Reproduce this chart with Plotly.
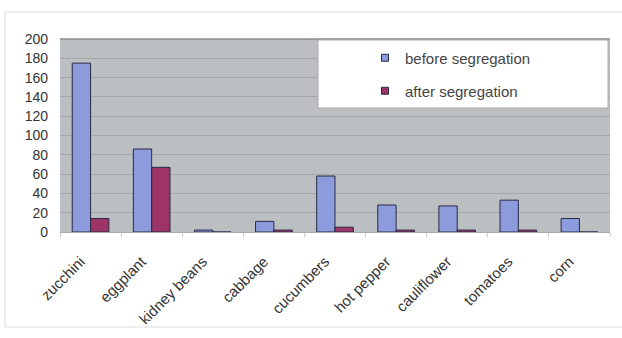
import plotly.graph_objects as go

categories = ["zucchini", "eggplant", "kidney beans", "cabbage", "cucumbers",
              "hot pepper", "cauliflower", "tomatoes", "corn"]
before = [175, 86, 2, 11, 58, 28, 27, 33, 14]
after = [14, 67, 0, 2, 5, 2, 2, 2, 0]
series_names = ["before segregation", "after segregation"]
y_ticks = list(range(0, 201, 20))

W, H = 622, 338
L, R, T, B = 60, 12, 39, 106
pw, ph = W - L - R, H - T - B

def px(x):
    return (x - L) / pw

def py(y):
    return (H - B - y) / ph

c_before = "#8C9BDB"
c_after = "#9C3466"
outline = "#2A2A4A"

fig = go.Figure()
fig.add_trace(go.Bar(x=categories, y=before, name=series_names[0],
                     marker=dict(color=c_before, line=dict(color=outline, width=1)),
                     showlegend=False))
fig.add_trace(go.Bar(x=categories, y=after, name=series_names[1],
                     marker=dict(color=c_after, line=dict(color=outline, width=1)),
                     showlegend=False))
# legend entries
fig.add_trace(go.Scatter(x=[None], y=[None], mode="markers", name=series_names[0],
                         marker=dict(symbol="square", size=7, color=c_before,
                                     line=dict(color=outline, width=1)),
                         legend="legend"))
fig.add_trace(go.Scatter(x=[None], y=[None], mode="markers", name=series_names[1],
                         marker=dict(symbol="square", size=7, color=c_after,
                                     line=dict(color=outline, width=1)),
                         legend="legend2"))

font = "Arial, Liberation Sans, sans-serif"
lx = px(365)
fig.update_layout(
    width=W, height=H,
    margin=dict(l=L, r=R, t=T, b=B),
    paper_bgcolor="white",
    plot_bgcolor="#BCBFC1",
    barmode="group",
    bargap=0.4,
    bargroupgap=0,
    font=dict(family=font, size=13, color="#333333"),
    legend=dict(x=lx, y=py(58), xanchor="left", yanchor="middle",
                bgcolor="rgba(0,0,0,0)", font=dict(size=15, color="#444"),
                itemwidth=30),
    legend2=dict(x=lx, y=py(91), xanchor="left", yanchor="middle",
                 bgcolor="rgba(0,0,0,0)", font=dict(size=15, color="#444"),
                 itemwidth=30),
    xaxis=dict(tickangle=-45, showgrid=False, ticks="outside", tickson="boundaries",
               ticklen=4, tickcolor="#CCCCCC", showline=True, linecolor="#AAAAAA",
               ticklabelstandoff=14, ticklabelshift=-10,
               tickfont=dict(size=15, color="#333"), fixedrange=True),
    yaxis=dict(range=[0, 200], tickvals=y_ticks, showgrid=True, gridcolor="#A4A7A9",
               gridwidth=1, zeroline=False, showline=False, ticks="",
               ticklabelstandoff=11, tickfont=dict(size=14, color="#333")),
    shapes=[
        dict(type="rect", xref="paper", yref="paper", x0=px(5), x1=px(630),
             y0=py(12), y1=py(327), line=dict(color="#DDDDDD", width=1),
             fillcolor="rgba(0,0,0,0)", layer="below"),
        dict(type="line", xref="paper", yref="paper", x0=0, x1=1, y0=1, y1=1,
             line=dict(color="#8A8D90", width=1.5)),
        dict(type="rect", xref="paper", yref="paper", x0=px(318), x1=px(608),
             y0=py(40), y1=py(108), line=dict(color="#AAAAAA", width=1),
             fillcolor="white", layer="above"),
    ],
)

fig.write_html("out.html")
